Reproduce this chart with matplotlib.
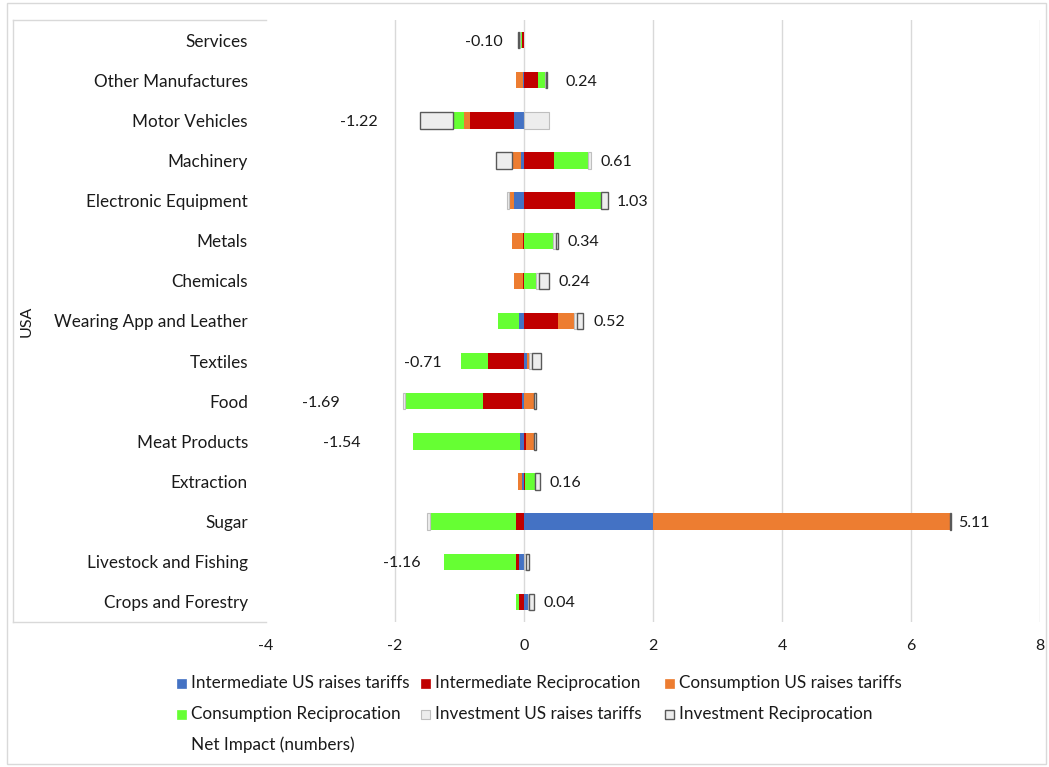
import matplotlib
matplotlib.use("Agg")
import matplotlib.pyplot as plt
from matplotlib.patches import Rectangle
from matplotlib.lines import Line2D
import numpy as np

plt.rcParams['font.family'] = ['Lato', 'DejaVu Sans']
plt.rcParams['axes.unicode_minus'] = False

# Sectors, listed bottom to top
sectors = ["Crops and Forestry", "Livestock and Fishing", "Sugar", "Extraction",
           "Meat Products", "Food", "Textiles", "Wearing App and Leather",
           "Chemicals", "Metals", "Electronic Equipment", "Machinery",
           "Motor Vehicles", "Other Manufactures", "Services"]

intermediate_us    = [0.06, -0.07, 2.00, -0.03, -0.06, -0.03, 0.05, -0.08, 0.00, 0.00, -0.16, -0.04, -0.15, -0.02, 0.00]
intermediate_recip = [-0.08, -0.06, -0.12, 0.02, 0.03, -0.60, -0.56, 0.52, -0.02, -0.02, 0.79, 0.46, -0.69, 0.22, -0.03]
consumption_us     = [0.00, 0.00, 4.60, -0.06, 0.12, 0.15, 0.02, 0.26, -0.13, -0.17, -0.08, -0.14, -0.09, -0.10, 0.00]
consumption_recip  = [-0.04, -1.11, -1.34, 0.15, -1.66, -1.22, -0.42, -0.32, 0.18, 0.45, 0.40, 0.53, -0.17, 0.11, -0.03]
investment_us      = [0.02, 0.03, -0.05, 0.00, 0.00, -0.02, 0.06, 0.04, 0.05, 0.05, -0.03, 0.05, 0.39, 0.01, -0.02]
investment_recip   = [0.08, 0.05, 0.02, 0.08, 0.03, 0.03, 0.14, 0.10, 0.16, 0.03, 0.11, -0.25, -0.51, 0.02, -0.02]
net_impact         = [0.04, -1.16, 5.11, 0.16, -1.54, -1.69, -0.71, 0.52, 0.24, 0.34, 1.03, 0.61, -1.22, 0.24, -0.10]

series_names = ["Intermediate US raises tariffs", "Intermediate Reciprocation",
                "Consumption US raises tariffs", "Consumption Reciprocation",
                "Investment US raises tariffs", "Investment Reciprocation"]
series_values = [intermediate_us, intermediate_recip, consumption_us,
                 consumption_recip, investment_us, investment_recip]
fills = ["#4472C4", "#C00000", "#ED7D31", "#66FF33", "#EDEDED", "#EDEDED"]
edges = ["#4472C4", "#C00000", "#ED7D31", "#66FF33", "#BFBFBF", "#595959"]
edge_widths = [0, 0, 0, 0, 0.8, 1.0]

# text anchor positions (data units) for the net-impact labels
label_x = [0.30, -1.60, 6.73, 0.40, -2.54, -2.85, -1.27, 1.07, 0.54, 0.68, 1.43, 1.18, -2.26, 0.65, -0.33]

W, H = 1049, 767
fig = plt.figure(figsize=(W / 100, H / 100), dpi=100)
TEXT = "#1a1a1a"
GRID = "#D9D9D9"

# plot area in pixels
left_px, right_px, top_px, bottom_px = 266, 1040, 20, 622
ax = fig.add_axes([left_px / W, 1 - bottom_px / H,
                   (right_px - left_px) / W, (bottom_px - top_px) / H])

y = np.arange(len(sectors))
pos_cum = np.zeros(len(sectors))
neg_cum = np.zeros(len(sectors))
for name, vals, fc, ec, lw in zip(series_names, series_values, fills, edges, edge_widths):
    v = np.array(vals, dtype=float)
    lefts = np.where(v >= 0, pos_cum, neg_cum)
    ax.barh(y, v, left=lefts, height=0.41, color=fc, edgecolor=ec,
            linewidth=lw, zorder=3)
    pos_cum += np.where(v > 0, v, 0)
    neg_cum += np.where(v < 0, v, 0)

for yi, val, lx in zip(y, net_impact, label_x):
    ax.text(lx, yi, f"{val:.2f}", ha="left" if val >= 0 else "right",
            va="center_baseline", fontsize=11.5, color=TEXT, zorder=4)

ax.set_xlim(-4, 8)
ax.set_ylim(-0.5, len(sectors) - 0.5)
ax.set_xticks([-4, -2, 0, 2, 4, 6, 8])
for gx in [-2, 0, 2, 4, 6, 8]:
    ax.axvline(gx, color=GRID, linewidth=1.0, zorder=1)
ax.set_yticks(y)
ax.set_yticklabels(sectors)
ax.tick_params(axis="y", length=0, pad=13, labelsize=12.3, labelcolor=TEXT)
ax.tick_params(axis="x", length=0, pad=12, labelsize=11.5, labelcolor=TEXT)
for s in ax.spines.values():
    s.set_visible(False)
ax.set_facecolor("none")


def fx(px):
    return px / W


def fy(py):
    return 1 - py / H


# chart border and category box
fig.add_artist(Rectangle((fx(7), fy(764)), fx(1046) - fx(7), fy(3) - fy(764),
                         transform=fig.transFigure, fill=False,
                         edgecolor=GRID, linewidth=1.0))
for xs, ys in [([13, 13], [top_px, bottom_px]),
               ([13, left_px], [top_px, top_px]),
               ([13, left_px], [bottom_px, bottom_px])]:
    fig.add_artist(Line2D([fx(v) for v in xs], [fy(v) for v in ys],
                          transform=fig.transFigure, color=GRID, linewidth=1.0))

fig.text(fx(27), fy((top_px + bottom_px) / 2), "USA", rotation=90,
         ha="center", va="center", fontsize=11.5, color=TEXT)

# legend
col_x = [177, 421, 665]
row_y = [683, 714, 745]
key = 9
for i, (name, fc, ec, lw) in enumerate(zip(series_names, fills, edges, edge_widths)):
    cx, cy = col_x[i % 3], row_y[i // 3]
    fig.add_artist(Rectangle((fx(cx), fy(cy + key / 2)), key / W, key / H,
                             transform=fig.transFigure, facecolor=fc,
                             edgecolor=ec if lw else fc, linewidth=max(lw, 0.5)))
    fig.text(fx(cx + 14), fy(cy), name, ha="left", va="center",
             fontsize=12.3, color=TEXT)
fig.text(fx(col_x[0] + 14), fy(row_y[2]), "Net Impact (numbers)", ha="left",
         va="center", fontsize=12.3, color=TEXT)

fig.savefig("out.png", dpi=100, facecolor="white")
